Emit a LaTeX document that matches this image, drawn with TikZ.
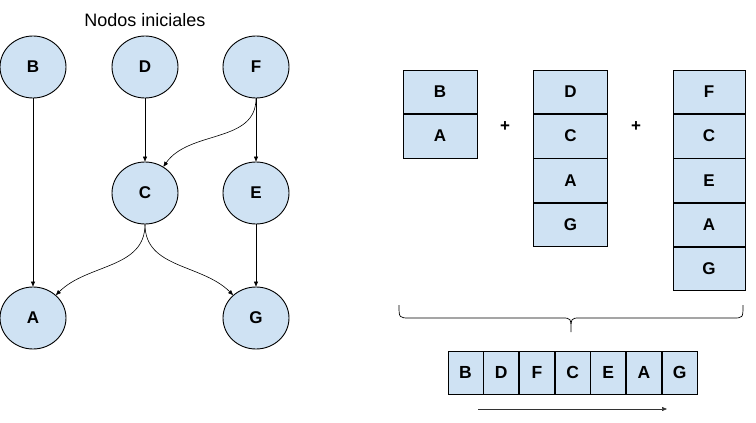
\documentclass[tikz,border=0pt]{standalone}
\usepackage{fontspec}
\setmainfont{Liberation Sans}
\usetikzlibrary{shapes.geometric,arrows.meta}
\definecolor{nodefill}{HTML}{CFE2F3}

\begin{document}
\begin{tikzpicture}[x=1pt,y=1pt,
  gnode/.style={ellipse,draw=black,line width=0.9pt,fill=nodefill,
    minimum width=66pt,minimum height=62pt,inner sep=0pt,
    font=\bfseries\fontsize{17}{17}\selectfont},
  cell/.style={rectangle,draw=black,line width=0.7pt,fill=nodefill,
    minimum width=74pt,minimum height=43.6pt,inner sep=0pt,
    font=\bfseries\fontsize{17}{17}\selectfont},
  seqcell/.style={rectangle,draw=black,line width=0.7pt,fill=nodefill,
    minimum width=35pt,minimum height=43pt,inner sep=0pt,
    font=\bfseries\fontsize{17.5}{17.5}\selectfont},
  edge/.style={-{Triangle[length=5pt,width=4pt]},line width=0.6pt},
  plus/.style={font=\bfseries\fontsize{17}{17}\selectfont,inner sep=0pt}
]
\useasboundingbox (0,0) rectangle (756,-423);

% dependency graph
\node[font=\fontsize{18}{18}\selectfont] (title) at (145,-20) {Nodos iniciales};
\node[gnode] (B) at (33,-67) {B};
\node[gnode] (D) at (145,-67) {D};
\node[gnode] (F) at (256,-67) {F};
\node[gnode] (C) at (145,-193) {C};
\node[gnode] (E) at (256,-193) {E};
\node[gnode] (A) at (33,-318) {A};
\node[gnode] (G) at (256,-318) {G};

\draw[edge] (B) -- (A);
\draw[edge] (D) -- (C);
\draw[edge] (F) -- (E);
\draw[edge] (E) -- (G);
\draw[edge] (F) to[out=-90,in=55] (C);
\draw[edge] (C) to[out=-90,in=45] (A);
\draw[edge] (C) to[out=-90,in=135] (G);

% partial orders, one column per initial node
\node[cell] (p1) at (440,-91.8) {B};
\node[cell,anchor=north] (p2) at (p1.south) {A};

\node[cell] (q1) at (570.5,-91.8) {D};
\node[cell,anchor=north] (q2) at (q1.south) {C};
\node[cell,anchor=north] (q3) at (q2.south) {A};
\node[cell,anchor=north] (q4) at (q3.south) {G};

\node[cell,minimum width=72pt] (r1) at (709,-91.8) {F};
\node[cell,minimum width=72pt,anchor=north] (r2) at (r1.south) {C};
\node[cell,minimum width=72pt,anchor=north] (r3) at (r2.south) {E};
\node[cell,minimum width=72pt,anchor=north] (r4) at (r3.south) {A};
\node[cell,minimum width=72pt,anchor=north] (r5) at (r4.south) {G};

\node[plus] (plus1) at (505,-127) {+};
\node[plus] (plus2) at (636,-127) {+};

% brace joining the columns
\draw[line width=0.7pt]
  (399,-305) .. controls (399,-318) .. (410,-318) -- (562,-318)
  .. controls (571,-318) .. (571,-332)
  .. controls (571,-318) .. (580,-318) -- (733,-318)
  .. controls (743,-318) .. (743,-305);

% resulting topological order
\node[seqcell] (s1) at (465.5,-372.5) {B};
\node[seqcell,anchor=west] (s2) at (s1.east) {D};
\node[seqcell,anchor=west] (s3) at (s2.east) {F};
\node[seqcell,anchor=west] (s4) at (s3.east) {C};
\node[seqcell,anchor=west] (s5) at (s4.east) {E};
\node[seqcell,anchor=west] (s6) at (s5.east) {A};
\node[seqcell,anchor=west] (s7) at (s6.east) {G};

\coordinate (ordstart) at (478,-409);
\coordinate (ordend) at (667,-409);
\draw[edge,black!80] (ordstart) -- (ordend);
\end{tikzpicture}
\end{document}
